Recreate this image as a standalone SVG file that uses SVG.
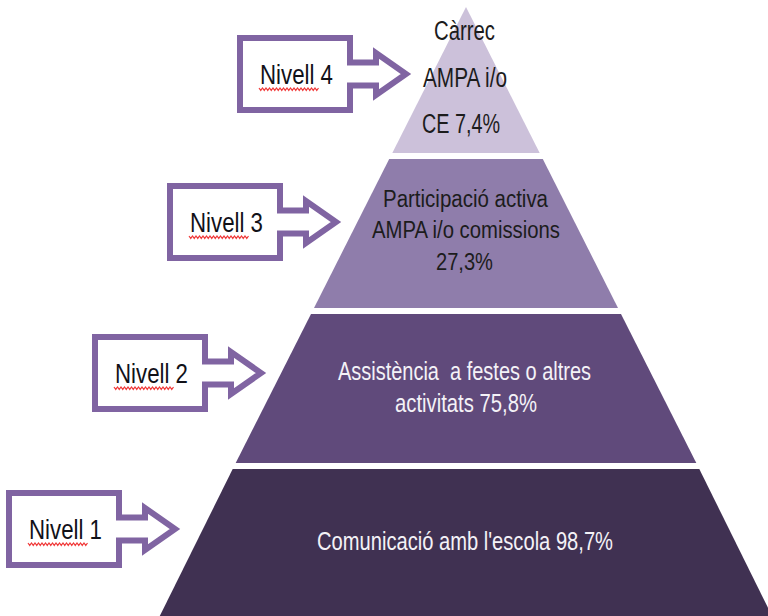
<svg xmlns="http://www.w3.org/2000/svg" xmlns:xlink="http://www.w3.org/1999/xlink" width="768" height="616" viewBox="0 0 768 616">
<style>
.lbl{font-family:"Liberation Sans",Arial,sans-serif;font-size:27px;fill:#111118}
.dark{font-family:"Liberation Sans",Arial,sans-serif;fill:#1c1c1c}
.light{font-family:"Liberation Sans",Arial,sans-serif;fill:#f4f2f7}
.callout{fill:#ffffff;stroke:#8064a2;stroke-width:6;stroke-linejoin:miter;stroke-miterlimit:10}
.squig{fill:none;stroke:#f03a3a;stroke-width:1.2}
</style>
<defs>
<path id="callout" class="callout" d="M240,38 H350 V62.5 H376 V53 L406,74 L376,95 V85.5 H350 V110 H240 Z"/>
<path id="squiggle" class="squig" d="M259,88 l1.75,2.4 l1.75,-2.4 l1.75,2.4 l1.75,-2.4 l1.75,2.4 l1.75,-2.4 l1.75,2.4 l1.75,-2.4 l1.75,2.4 l1.75,-2.4 l1.75,2.4 l1.75,-2.4 l1.75,2.4 l1.75,-2.4 l1.75,2.4 l1.75,-2.4 l1.75,2.4 l1.75,-2.4 l1.75,2.4 l1.75,-2.4 l1.75,2.4 l1.75,-2.4 l1.75,2.4 l1.75,-2.4 l1.75,2.4 l1.75,-2.4 l1.75,2.4 l1.75,-2.4 l1.75,2.4 l1.75,-2.4 l1.75,2.4 l1.75,-2.4 l1.75,2.4 l1.75,-2.4"/>
</defs>
<rect x="0" y="0" width="768" height="616" fill="#ffffff"/>

<g id="level4">
<polygon points="466,7 539.7,153 392.3,153" fill="#ccc1da"/>
<text class="dark" font-size="27" x="434" y="40" textLength="61" lengthAdjust="spacingAndGlyphs">Càrrec</text>
<text class="dark" font-size="27" x="423" y="87" textLength="84" lengthAdjust="spacingAndGlyphs">AMPA i/o</text>
<text class="dark" font-size="27" x="422" y="133" textLength="78" lengthAdjust="spacingAndGlyphs">CE 7,4%</text>
</g>

<g id="level3">
<polygon points="389.2,159 542.8,159 618,308 314,308" fill="#8f7dab"/>
<text class="dark" font-size="23" x="383" y="207" textLength="165" lengthAdjust="spacingAndGlyphs">Participació activa</text>
<text class="dark" font-size="23" x="372" y="238" textLength="188" lengthAdjust="spacingAndGlyphs">AMPA i/o comissions</text>
<text class="dark" font-size="23" x="436" y="270" textLength="57" lengthAdjust="spacingAndGlyphs">27,3%</text>
</g>

<g id="level2">
<polygon points="311,314 621,314 696.3,463 235.7,463" fill="#604a7b"/>
<text class="light" font-size="25" x="338" y="380" xml:space="preserve" textLength="253" lengthAdjust="spacingAndGlyphs">Assistència  a festes o altres</text>
<text class="light" font-size="25" x="395" y="412" textLength="142" lengthAdjust="spacingAndGlyphs">activitats 75,8%</text>
</g>

<g id="level1">
<polygon points="232.7,469 699.3,469 774,620 157.8,620" fill="#403152"/>
<text class="light" font-size="26" x="317" y="550" textLength="296" lengthAdjust="spacingAndGlyphs">Comunicació amb l'escola 98,7%</text>
</g>

<g id="nivell4">
<use xlink:href="#callout" href="#callout"/>
<text class="lbl" x="260" y="84" textLength="73" lengthAdjust="spacingAndGlyphs">Nivell 4</text>
<use xlink:href="#squiggle" href="#squiggle"/>
</g>

<g id="nivell3" transform="translate(-70,148)">
<use xlink:href="#callout" href="#callout"/>
<text class="lbl" x="260" y="84" textLength="73" lengthAdjust="spacingAndGlyphs">Nivell 3</text>
<use xlink:href="#squiggle" href="#squiggle"/>
</g>

<g id="nivell2" transform="translate(-145,299)">
<use xlink:href="#callout" href="#callout"/>
<text class="lbl" x="260" y="84" textLength="73" lengthAdjust="spacingAndGlyphs">Nivell 2</text>
<use xlink:href="#squiggle" href="#squiggle"/>
</g>

<g id="nivell1" transform="translate(-231,455)">
<use xlink:href="#callout" href="#callout"/>
<text class="lbl" x="260" y="84" textLength="73" lengthAdjust="spacingAndGlyphs">Nivell 1</text>
<use xlink:href="#squiggle" href="#squiggle"/>
</g>

<g id="connectors"/>
</svg>
